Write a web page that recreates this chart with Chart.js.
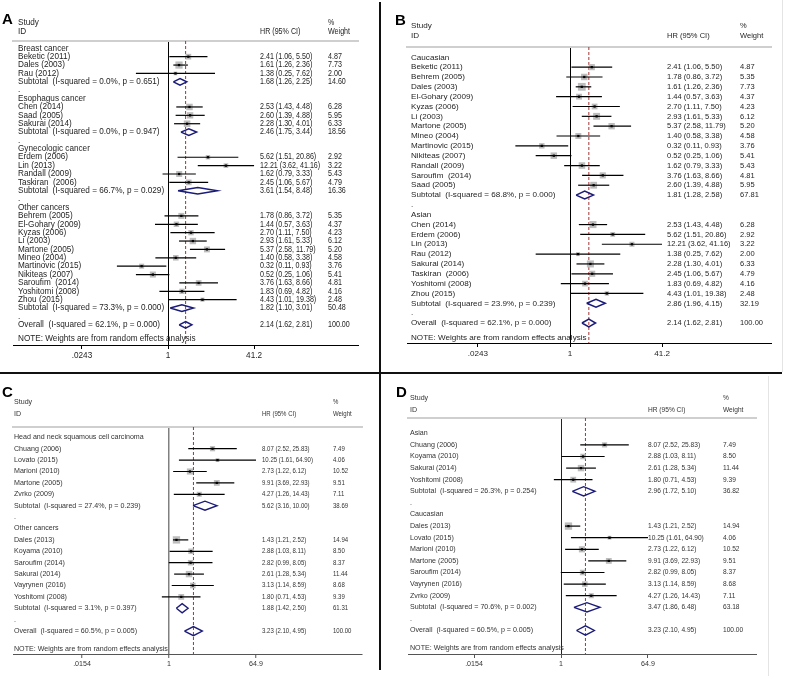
<!DOCTYPE html>
<html>
<head>
<meta charset="utf-8">
<script src="https://cdn.jsdelivr.net/npm/chart.js@4.4.1/dist/chart.umd.min.js"></script>
<style>
  html, body { margin: 0; padding: 0; background: #fff; }
  body { width: 788px; height: 684px; position: relative; overflow: hidden; }
  canvas { position: absolute; }
  .letter { position: absolute; font: bold 15px 'Liberation Sans', Arial, sans-serif; line-height: 15px; color: #000; }
  .rule { position: absolute; background: #111; }
  .faint { position: absolute; background: #e4e4e4; }
</style>
</head>
<body>
<canvas id="chart_a"></canvas>
<canvas id="chart_b"></canvas>
<canvas id="chart_c"></canvas>
<canvas id="chart_d"></canvas>
<div class="letter" style="left:2px;top:11px">A</div>
<div class="letter" style="left:395px;top:12px">B</div>
<div class="letter" style="left:2px;top:384px">C</div>
<div class="letter" style="left:396px;top:384px">D</div>
<div class="rule" style="left:379px;top:2px;width:2px;height:668px"></div>
<div class="rule" style="left:0;top:372px;width:782px;height:2px"></div>
<div class="faint" style="left:782px;top:0;width:1px;height:372px"></div>
<div class="faint" style="left:768px;top:376px;width:1px;height:300px"></div>
<script>
// ---- A: by cancer type ----
const aGroups = ['Breast cancer', 'Esophagus cancer', 'Gynecologic cancer', 'Other cancers'];
const aGroupSizes = [3, 3, 4, 11];
const aStudies = ['Beketic (2011)', 'Dales (2003)', 'Rau (2012)',
  'Chen (2014)', 'Saad (2005)', 'Sakurai (2014)',
  'Erdem (2006)', 'Lin (2013)', 'Randall (2009)', 'Taskiran  (2006)',
  'Behrem (2005)', 'El-Gohary (2009)', 'Kyzas (2006)', 'Li (2003)', 'Martone (2005)', 'Mineo (2004)',
  'Martinovic (2015)', 'Nikiteas (2007)', 'Saroufim  (2014)', 'Yoshitomi (2008)', 'Zhou (2015)'];
const aHR = [2.41, 1.61, 1.38, 2.53, 2.60, 2.28, 5.62, 12.21, 1.62, 2.45, 1.78, 1.44, 2.70, 2.93, 5.37, 1.40, 0.32, 0.52, 3.76, 1.83, 4.43];
const aLow = [1.06, 1.26, 0.25, 1.43, 1.39, 1.30, 1.51, 3.62, 0.79, 1.06, 0.86, 0.57, 1.11, 1.61, 2.58, 0.58, 0.11, 0.25, 1.63, 0.69, 1.01];
const aHigh = [5.50, 2.36, 7.62, 4.48, 4.88, 4.01, 20.86, 41.16, 3.33, 5.67, 3.72, 3.63, 7.50, 5.33, 11.79, 3.38, 0.93, 1.06, 8.66, 4.82, 19.38];
const aWeight = [4.87, 7.73, 2.00, 6.28, 5.95, 6.33, 2.92, 3.22, 5.43, 4.79, 5.35, 4.37, 4.23, 6.12, 5.20, 4.58, 3.76, 5.41, 4.81, 4.16, 2.48];
const aSubI2 = [0.0, 0.0, 66.7, 73.3];
const aSubP = [0.651, 0.947, 0.029, 0.000];
const aSubHR = [1.68, 2.46, 3.61, 1.82];
const aSubLow = [1.26, 1.75, 1.54, 1.10];
const aSubHigh = [2.25, 3.44, 8.48, 3.01];
const aSubWeight = [14.60, 18.56, 16.36, 50.48];
const aOverall = [2.14, 1.62, 2.81];   // HR, low, high
const aOverallHet = [62.1, 0.000];     // I-squared, p
const aTickValues = [0.0243, 1, 41.2];
const aTickLabels = ['.0243', '1', '41.2'];

// ---- B: by ethnicity ----
const bGroups = ['Caucasian', 'Asian'];
const bGroupSizes = [13, 8];
const bStudies = ['Beketic (2011)', 'Behrem (2005)', 'Dales (2003)', 'El-Gohary (2009)', 'Kyzas (2006)', 'Li (2003)',
  'Martone (2005)', 'Mineo (2004)', 'Martinovic (2015)', 'Nikiteas (2007)', 'Randall (2009)', 'Saroufim  (2014)', 'Saad (2005)',
  'Chen (2014)', 'Erdem (2006)', 'Lin (2013)', 'Rau (2012)', 'Sakurai (2014)', 'Taskiran  (2006)', 'Yoshitomi (2008)', 'Zhou (2015)'];
const bHR = [2.41, 1.78, 1.61, 1.44, 2.70, 2.93, 5.37, 1.40, 0.32, 0.52, 1.62, 3.76, 2.60, 2.53, 5.62, 12.21, 1.38, 2.28, 2.45, 1.83, 4.43];
const bLow = [1.06, 0.86, 1.26, 0.57, 1.11, 1.61, 2.58, 0.58, 0.11, 0.25, 0.79, 1.63, 1.39, 1.43, 1.51, 3.62, 0.25, 1.30, 1.06, 0.69, 1.01];
const bHigh = [5.50, 3.72, 2.36, 3.63, 7.50, 5.33, 11.79, 3.38, 0.93, 1.06, 3.33, 8.66, 4.88, 4.48, 20.86, 41.16, 7.62, 4.01, 5.67, 4.82, 19.38];
const bWeight = [4.87, 5.35, 7.73, 4.37, 4.23, 6.12, 5.20, 4.58, 3.76, 5.41, 5.43, 4.81, 5.95, 6.28, 2.92, 3.22, 2.00, 6.33, 4.79, 4.16, 2.48];
const bSubI2 = [68.8, 23.9];
const bSubP = [0.000, 0.239];
const bSubHR = [1.81, 2.86];
const bSubLow = [1.28, 1.96];
const bSubHigh = [2.58, 4.15];
const bSubWeight = [67.81, 32.19];
const bOverall = [2.14, 1.62, 2.81];
const bOverallHet = [62.1, 0.000];
const bTickValues = [0.0243, 1, 41.2];
const bTickLabels = ['.0243', '1', '41.2'];

// ---- C: by cancer type ----
const cGroups = ['Head and neck squamous cell carcinoma', 'Other cancers'];
const cGroupSizes = [5, 6];
const cStudies = ['Chuang (2006)', 'Lovato (2015)', 'Marioni (2010)', 'Martone (2005)', 'Zvrko (2009)',
  'Dales (2013)', 'Koyama (2010)', 'Saroufim (2014)', 'Sakurai (2014)', 'Vayrynen (2016)', 'Yoshitomi (2008)'];
const cHR = [8.07, 10.25, 2.73, 9.91, 4.27, 1.43, 2.88, 2.82, 2.61, 3.13, 1.80];
const cLow = [2.52, 1.61, 1.22, 3.69, 1.26, 1.21, 1.03, 0.99, 1.28, 1.14, 0.71];
const cHigh = [25.83, 64.90, 6.12, 22.93, 14.43, 2.52, 8.11, 8.05, 5.34, 8.59, 4.53];
const cWeight = [7.49, 4.06, 10.52, 9.51, 7.11, 14.94, 8.50, 8.37, 11.44, 8.68, 9.39];
const cSubI2 = [27.4, 3.1];
const cSubP = [0.239, 0.397];
const cSubHR = [5.62, 1.88];
const cSubLow = [3.16, 1.42];
const cSubHigh = [10.00, 2.50];
const cSubWeight = [38.69, 61.31];
const cOverall = [3.23, 2.10, 4.95];
const cOverallHet = [60.5, 0.005];
const cTickValues = [0.0154, 1, 64.9];
const cTickLabels = ['.0154', '1', '64.9'];

// ---- D: by ethnicity ----
const dGroups = ['Asian', 'Caucasian'];
const dGroupSizes = [4, 7];
const dStudies = ['Chuang (2006)', 'Koyama (2010)', 'Sakurai (2014)', 'Yoshitomi (2008)',
  'Dales (2013)', 'Lovato (2015)', 'Marioni (2010)', 'Martone (2005)', 'Saroufim (2014)', 'Vayrynen (2016)', 'Zvrko (2009)'];
const dHR = [8.07, 2.88, 2.61, 1.80, 1.43, 10.25, 2.73, 9.91, 2.82, 3.13, 4.27];
const dLow = [2.52, 1.03, 1.28, 0.71, 1.21, 1.61, 1.22, 3.69, 0.99, 1.14, 1.26];
const dHigh = [25.83, 8.11, 5.34, 4.53, 2.52, 64.90, 6.12, 22.93, 8.05, 8.59, 14.43];
const dWeight = [7.49, 8.50, 11.44, 9.39, 14.94, 4.06, 10.52, 9.51, 8.37, 8.68, 7.11];
const dSubI2 = [26.3, 70.6];
const dSubP = [0.254, 0.002];
const dSubHR = [2.96, 3.47];
const dSubLow = [1.72, 1.86];
const dSubHigh = [5.10, 6.48];
const dSubWeight = [36.82, 63.18];
const dOverall = [3.23, 2.10, 4.95];
const dOverallHet = [60.5, 0.005];
const dTickValues = [0.0154, 1, 64.9];
const dTickLabels = ['.0154', '1', '64.9'];

// posizioni in pixel di pagina per ogni pannello
const layouts = {
  a: { left: 0, top: 0, width: 379, height: 372, plotL: 13, plotR: 358, plotT: 41, plotB: 345,
       one: 168, perDecade: 53.3, row0: 48.3, rowH: 8.38, labelX: 18, hrX: 260, wtX: 328,
       studyY: 23, idY: 32, noteY: 339, font: 8.2, numK: 0.87, text: '#1e1e1e', axis: '#000',
       nullLine: '#000', nullW: 1, boxK: 2.6, ciW: 1.2, diaW: 1.5 },
  b: { left: 382, top: 0, width: 400, height: 372, plotL: 407, plotR: 771, plotT: 47, plotB: 343,
       one: 570, perDecade: 57, row0: 57.3, rowH: 9.84, labelX: 411, hrX: 667, wtX: 740,
       studyY: 26, idY: 36, noteY: 338, font: 8.1, numK: 0.93, text: '#1e1e1e', axis: '#000',
       nullLine: '#000', nullW: 1, boxK: 2.8, ciW: 1.2, diaW: 1.5 },
  c: { left: 0, top: 376, width: 379, height: 308, plotL: 13, plotR: 362, plotT: 427, plotB: 654,
       one: 169, perDecade: 48, row0: 437.3, rowH: 11.4, labelX: 14, hrX: 262, wtX: 333,
       studyY: 402, idY: 414, noteY: 649, font: 7.1, numK: 0.85, text: '#333', axis: '#555',
       nullLine: '#808080', nullW: 1.5, boxK: 1.9, ciW: 1.2, diaW: 1.4 },
  d: { left: 382, top: 376, width: 400, height: 308, plotL: 408, plotR: 756, plotT: 418, plotB: 654,
       one: 561, perDecade: 48, row0: 433.3, rowH: 11.6, labelX: 410, hrX: 648, wtX: 723,
       studyY: 398, idY: 410, noteY: 648, font: 7.1, numK: 0.93, text: '#333', axis: '#555',
       nullLine: '#222', nullW: 1, boxK: 1.9, ciW: 1.2, diaW: 1.4 }
};

const AXIS_H = 20;
const FONT = '"Liberation Sans", Arial, sans-serif';

function het(i2, p) {
  return '(I-squared = ' + i2.toFixed(1) + '%, p = ' + p.toFixed(3) + ')';
}

// costruisco le righe del forest plot (gruppo, studi, subtotale, riga vuota)
function buildRows(t) {
  const rows = [];
  let k = 0;
  t.groups.forEach((g, gi) => {
    rows.push({ kind: 'group', label: g });
    for (let j = 0; j < t.sizes[gi]; j++, k++) {
      rows.push({ kind: 'study', label: t.studies[k], est: t.hr[k], lo: t.low[k], hi: t.high[k], wt: t.weight[k] });
    }
    rows.push({ kind: 'pooled', label: 'Subtotal  ' + het(t.subI2[gi], t.subP[gi]),
      est: t.subHR[gi], lo: t.subLow[gi], hi: t.subHigh[gi], wt: t.subWeight[gi] });
    rows.push({ kind: 'blank', label: '.' });
  });
  rows.push({ kind: 'pooled', label: 'Overall  ' + het(t.overallHet[0], t.overallHet[1]),
    est: t.overall[0], lo: t.overall[1], hi: t.overall[2], wt: 100 });
  return rows;
}

// testo stretto orizzontalmente (le cifre dell'originale sono più strette)
function fillNarrow(ctx, text, x, y, k) {
  ctx.fillText(text, x, y, ctx.measureText(text).width * k);
}

function textPlugin(rows, lay) {
  return {
    id: 'forestText',
    afterDraw(chart) {
      const ctx = chart.ctx;
      const y = chart.scales.y;
      const lx = lay.labelX - lay.left, hx = lay.hrX - lay.left, wx = lay.wtX - lay.left;
      ctx.save();
      ctx.font = lay.font + 'px ' + FONT;
      ctx.fillStyle = lay.text;
      ctx.textAlign = 'left';
      ctx.textBaseline = 'middle';
      ctx.fillText('Study', lx, lay.studyY - lay.top);
      ctx.fillText('ID', lx, lay.idY - lay.top);
      fillNarrow(ctx, 'HR (95% CI)', hx, lay.idY - lay.top, lay.numK);
      fillNarrow(ctx, '%', wx, lay.studyY - lay.top, lay.numK);
      fillNarrow(ctx, 'Weight', wx, lay.idY - lay.top, lay.numK);
      rows.forEach((r, i) => {
        const py = y.getPixelForValue(i);
        ctx.fillText(r.label, lx, py);
        if (r.est !== undefined) {
          fillNarrow(ctx, r.est.toFixed(2) + ' (' + r.lo.toFixed(2) + ', ' + r.hi.toFixed(2) + ')', hx, py, lay.numK);
          fillNarrow(ctx, r.wt.toFixed(2), wx, py, lay.numK);
        }
      });
      ctx.fillText('NOTE: Weights are from random effects analysis', lx, lay.noteY - lay.top);
      ctx.restore();
    }
  };
}

function makePanel(id, t, lay) {
  const rows = buildRows(t);
  const canvas = document.getElementById(id);
  canvas.width = lay.width;
  canvas.height = lay.height;
  canvas.style.left = lay.left + 'px';
  canvas.style.top = lay.top + 'px';

  const xMin = Math.pow(10, (lay.plotL - lay.one) / lay.perDecade);
  const xMax = Math.pow(10, (lay.plotR - lay.one) / lay.perDecade);
  const yMin = (lay.plotT - lay.row0) / lay.rowH;
  const yMax = (lay.plotB - lay.row0) / lay.rowH;

  const studies = [], pooled = [];
  rows.forEach((r, i) => {
    if (r.kind === 'study') studies.push({ ...r, row: i });
    if (r.kind === 'pooled') pooled.push({ ...r, row: i });
  });

  const datasets = [];
  // punto centrale
  datasets.push({
    data: studies.map(s => ({ x: s.est, y: s.row })),
    pointStyle: 'rect', pointRadius: 1.6, backgroundColor: '#000', borderWidth: 0, order: 0
  });
  // intervalli di confidenza
  studies.forEach(s => datasets.push({
    data: [{ x: s.lo, y: s.row }, { x: s.hi, y: s.row }],
    showLine: true, borderColor: '#000', borderWidth: lay.ciW, pointRadius: 0, order: 1
  }));
  // diamanti per subtotali e overall
  pooled.forEach(p => datasets.push({
    data: [{ x: p.lo, y: p.row }, { x: p.est, y: p.row - 0.4 }, { x: p.hi, y: p.row },
           { x: p.est, y: p.row + 0.4 }, { x: p.lo, y: p.row }],
    showLine: true, borderColor: '#1b1b78', borderWidth: lay.diaW, borderJoinStyle: 'miter',
    pointRadius: 0, order: 1
  }));
  // quadrati grigi proporzionali al peso
  datasets.push({
    data: studies.map(s => ({ x: s.est, y: s.row })),
    pointStyle: 'rect', pointRadius: studies.map(s => lay.boxK * Math.sqrt(s.wt) / Math.SQRT2),
    backgroundColor: '#bdbdbd', borderWidth: 0, order: 2
  });
  // linea tratteggiata sull'effetto complessivo
  datasets.push({
    data: [{ x: t.overall[0], y: yMin }, { x: t.overall[0], y: yMax }],
    showLine: true, borderColor: '#a83232', borderWidth: 1, borderDash: [3, 2], pointRadius: 0, order: 3
  });

  return new Chart(canvas, {
    type: 'scatter',
    data: { datasets },
    options: {
      responsive: false,
      animation: false,
      events: [],
      layout: { padding: {
        left: lay.plotL - lay.left,
        right: lay.left + lay.width - lay.plotR,
        top: lay.plotT - lay.top,
        bottom: lay.top + lay.height - lay.plotB - AXIS_H
      } },
      plugins: { legend: { display: false }, tooltip: { enabled: false } },
      scales: {
        x: {
          type: 'logarithmic', position: 'bottom', min: xMin, max: xMax, bounds: 'data',
          afterBuildTicks: s => { s.ticks = t.tickValues.map(v => ({ value: v })); },
          afterFit: s => { s.height = AXIS_H; },
          ticks: {
            autoSkip: false, maxRotation: 0, padding: 2, color: lay.text,
            font: { family: FONT, size: lay.font },
            callback: (v, i) => t.tickLabels[i]
          },
          grid: {
            drawOnChartArea: true, drawTicks: true, tickLength: 4, tickColor: lay.axis, tickWidth: 1,
            color: c => (c.tick && c.tick.value === 1) ? lay.nullLine : 'rgba(0,0,0,0)',
            lineWidth: lay.nullW
          },
          border: { display: true, color: lay.axis, width: 1 }
        },
        xTop: {
          type: 'logarithmic', position: 'top', axis: 'x', min: xMin, max: xMax, bounds: 'data',
          afterBuildTicks: s => { s.ticks = []; },
          afterFit: s => { s.height = 0; },
          ticks: { display: false },
          grid: { display: false, drawTicks: false },
          border: { display: true, color: '#cfcfcf', width: 2 }
        },
        y: { type: 'linear', display: false, reverse: true, min: yMin, max: yMax }
      }
    },
    plugins: [textPlugin(rows, lay)]
  });
}

makePanel('chart_a', {
  groups: aGroups, sizes: aGroupSizes, studies: aStudies, hr: aHR, low: aLow, high: aHigh, weight: aWeight,
  subI2: aSubI2, subP: aSubP, subHR: aSubHR, subLow: aSubLow, subHigh: aSubHigh, subWeight: aSubWeight,
  overall: aOverall, overallHet: aOverallHet, tickValues: aTickValues, tickLabels: aTickLabels
}, layouts.a);

makePanel('chart_b', {
  groups: bGroups, sizes: bGroupSizes, studies: bStudies, hr: bHR, low: bLow, high: bHigh, weight: bWeight,
  subI2: bSubI2, subP: bSubP, subHR: bSubHR, subLow: bSubLow, subHigh: bSubHigh, subWeight: bSubWeight,
  overall: bOverall, overallHet: bOverallHet, tickValues: bTickValues, tickLabels: bTickLabels
}, layouts.b);

makePanel('chart_c', {
  groups: cGroups, sizes: cGroupSizes, studies: cStudies, hr: cHR, low: cLow, high: cHigh, weight: cWeight,
  subI2: cSubI2, subP: cSubP, subHR: cSubHR, subLow: cSubLow, subHigh: cSubHigh, subWeight: cSubWeight,
  overall: cOverall, overallHet: cOverallHet, tickValues: cTickValues, tickLabels: cTickLabels
}, layouts.c);

makePanel('chart_d', {
  groups: dGroups, sizes: dGroupSizes, studies: dStudies, hr: dHR, low: dLow, high: dHigh, weight: dWeight,
  subI2: dSubI2, subP: dSubP, subHR: dSubHR, subLow: dSubLow, subHigh: dSubHigh, subWeight: dSubWeight,
  overall: dOverall, overallHet: dOverallHet, tickValues: dTickValues, tickLabels: dTickLabels
}, layouts.d);
</script>
</body>
</html>
